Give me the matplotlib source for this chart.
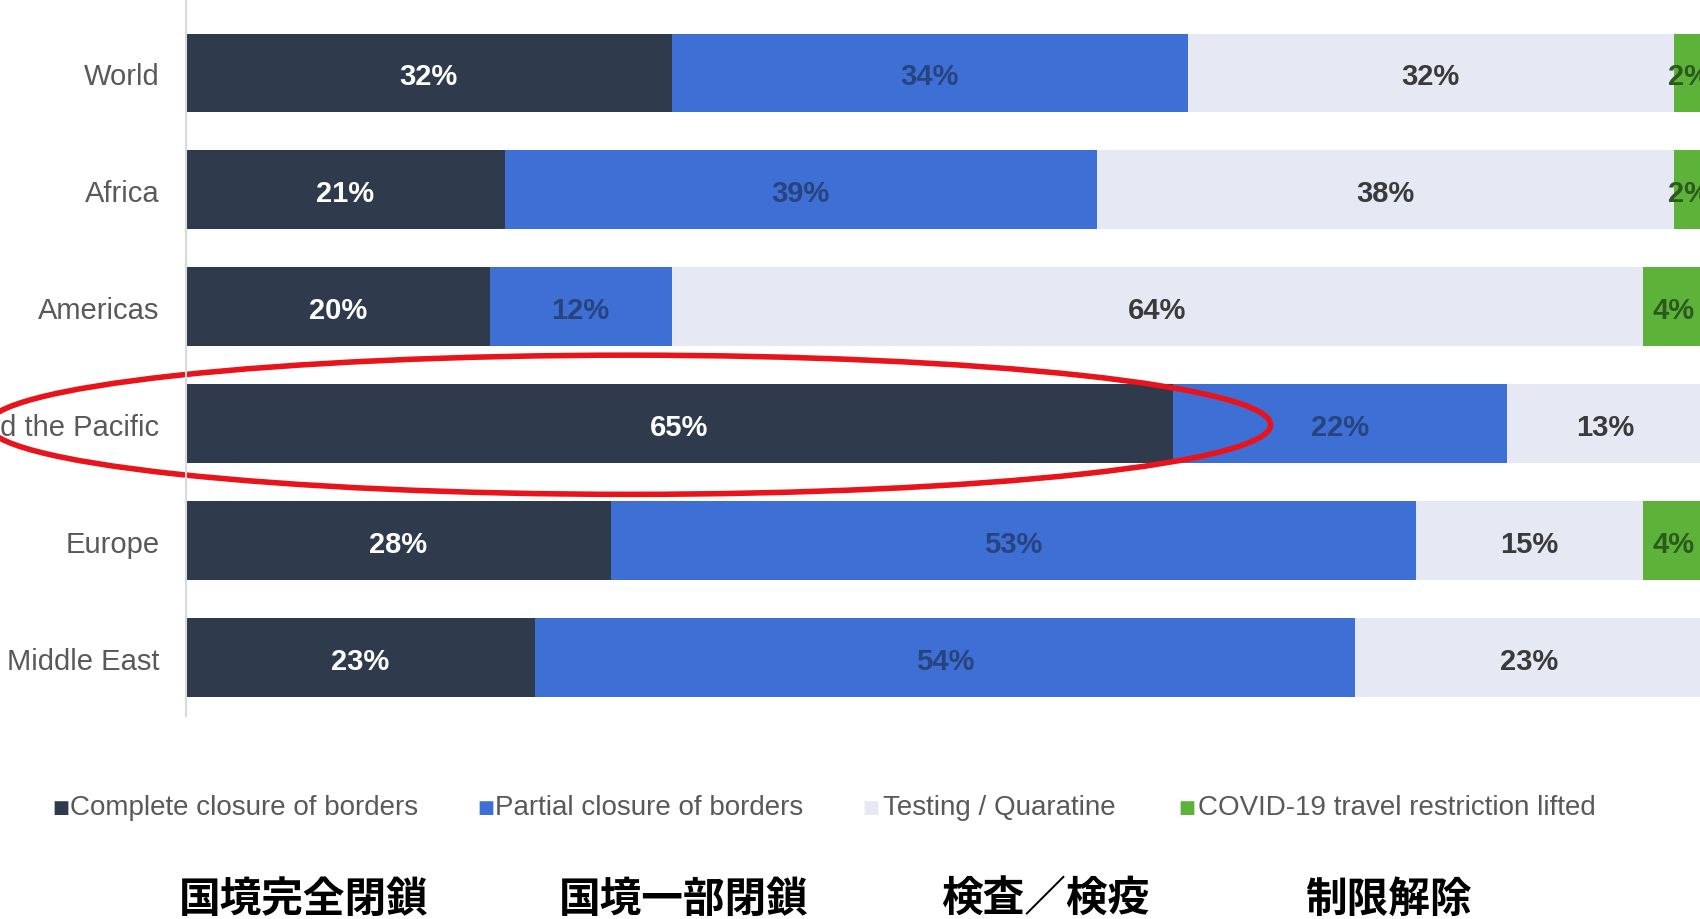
import numpy as np
import matplotlib.pyplot as plt
from matplotlib.patches import Ellipse

# data (share of destinations, %)
regions = ['World', 'Africa', 'Americas', 'Asia and the Pacific', 'Europe', 'Middle East']
complete = [32, 21, 20, 65, 28, 23]
partial = [34, 39, 12, 22, 53, 54]
testing = [32, 38, 64, 13, 15, 23]
lifted = [2, 2, 4, 0, 4, 0]
series_names = ['Complete closure of borders', 'Partial closure of borders',
                'Testing / Quaratine', 'COVID-19 travel restriction lifted']
jp_names = ['国境完全閉鎖', '国境一部閉鎖', '検査／検疫', '制限解除']

colors = ['#2f3a4d', '#3e6fd5', '#e6e9f4', '#5db33a']
label_colors = ['white', '#28447f', '#3a3a3a', '#2b5a1c']
narrow = ['Liberation Sans', 'DejaVu Sans']

W, H = 1700, 920
fig = plt.figure(figsize=(W / 100, H / 100), dpi=100)
ax = fig.add_axes([186 / W, 1 - 717 / H, (1704 - 186) / W, 717 / H])

y = np.arange(len(regions))
left = np.zeros(len(regions))
for vals, col, lcol in zip([complete, partial, testing, lifted], colors, label_colors):
    vals = np.array(vals, dtype=float)
    ax.barh(y, vals, left=left, height=0.67, color=col, edgecolor='none')
    for i, v in enumerate(vals):
        if v > 0:
            ax.text(left[i] + v / 2, y[i] + 0.03, f'{int(v)}%', ha='center', va='center',
                    fontsize=21, fontweight='bold', color=lcol, family=narrow)
    left += vals

ax.set_xlim(0, 100)
ax.set_ylim(5.5, -0.63)
ax.set_yticks(y)
ax.set_yticklabels(regions, fontsize=21, color='#595959', family=narrow)
ax.tick_params(axis='y', length=0, pad=19)
ax.set_xticks([])
for s in ['top', 'right', 'bottom']:
    ax.spines[s].set_visible(False)
ax.spines['left'].set_color('#d9d9d9')
ax.spines['left'].set_linewidth(1.5)

# red highlight around Asia and the Pacific
ax.add_patch(Ellipse((29.2, 3.01), width=84.5, height=1.19, fill=False,
                     edgecolor='#e8131b', linewidth=4, clip_on=False))

# legend row
legend_x = [(52, 70), (477, 495), (862, 883), (1178, 1198)]
for (sx, tx), name, col in zip(legend_x, series_names, colors):
    fig.text(sx / W, 1 - 808 / H, '■', fontsize=13, color=col, va='center', ha='left',
             family='DejaVu Sans')
    fig.text(tx / W, 1 - 808 / H, name, fontsize=20, color='#595959', va='center',
             ha='left', family=narrow)

# japanese captions
jp_x = [304, 684, 1045, 1388]
for x, name in zip(jp_x, jp_names):
    fig.text(x / W, 1 - 900 / H, name, fontsize=30, fontweight='bold', color='black',
             ha='center', va='center', family=['Noto Sans CJK JP', 'DejaVu Sans'])

fig.savefig('out.png', dpi=100)
